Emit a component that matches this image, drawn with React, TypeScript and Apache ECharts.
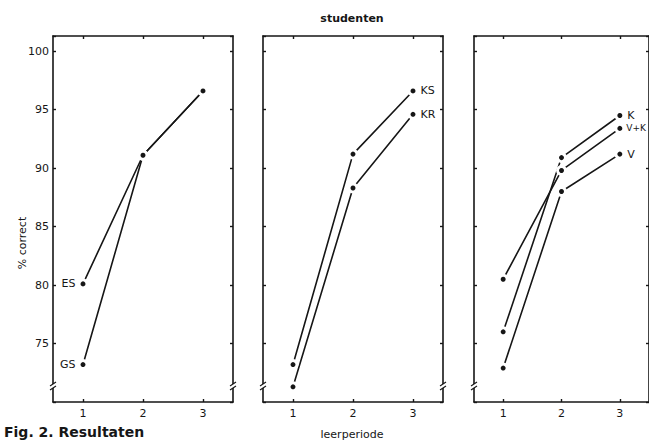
import React, { useEffect, useRef } from "react";
import * as echarts from "echarts";

const periods = ["1", "2", "3"];
const yTicks = [75, 80, 85, 90, 95, 100];

// panel 1
const ES = [80.1, 91.1, 96.6];
const GS = [73.2, 91.1, 96.6];
// panel 2
const KS = [73.2, 91.2, 96.6];
const KR = [71.3, 88.3, 94.6];
// panel 3
const K = [76.0, 90.9, 94.5];
const VK = [80.5, 89.8, 93.4];
const V = [72.9, 88.0, 91.2];

const panels = [
  { series: [{ name: "ES", data: ES, labelAt: 0 }, { name: "GS", data: GS, labelAt: 0 }], left: 53 },
  { series: [{ name: "KS", data: KS, labelAt: 2 }, { name: "KR", data: KR, labelAt: 2 }], left: 263 },
  { series: [{ name: "K", data: K, labelAt: 2 }, { name: "V+K", data: VK, labelAt: 2 }, { name: "V", data: V, labelAt: 2 }], left: 474 },
];

const INK = "#161616";
const FONT = "DejaVu Sans";

export default function App() {
  const ref = useRef<HTMLDivElement>(null);
  useEffect(() => {
    if (!ref.current) return;
    const chart = echarts.init(ref.current, null, { renderer: "svg" });
    const grids: any[] = [];
    const xAxes: any[] = [];
    const yAxes: any[] = [];
    const series: any[] = [];
    const graphics: any[] = [];
    const top = 36;
    const height = 366;
    const width = 180;
    panels.forEach((p, i) => {
      grids.push({ left: p.left, top, width, height });
      const axisLine = { show: true, lineStyle: { color: INK, width: 1.6 } };
      const tick = { show: true, inside: true, length: 3, lineStyle: { color: INK, width: 1.4 } };
      xAxes.push({
        type: "category", gridIndex: i, data: periods, boundaryGap: true, position: "bottom",
        axisLine, axisTick: { ...tick, alignWithLabel: true },
        axisLabel: { show: true, color: INK, fontFamily: FONT, fontSize: 11, margin: 6 },
        splitLine: { show: false },
      });
      xAxes.push({
        type: "category", gridIndex: i, data: periods, boundaryGap: true, position: "top",
        axisLine, axisTick: { ...tick, alignWithLabel: true }, axisLabel: { show: false }, splitLine: { show: false },
      });
      const yBase = {
        type: "value", gridIndex: i, min: 70, max: 101.3, interval: 5,
        axisLine, axisTick: tick, splitLine: { show: false },
      };
      yAxes.push({
        ...yBase, position: "left",
        axisLabel: {
          show: i === 0, color: INK, fontFamily: FONT, fontSize: 11, margin: 4,
          formatter: (v: number) => (yTicks.includes(v) ? String(v) : ""),
        },
      });
      yAxes.push({ ...yBase, position: "right", axisLabel: { show: false } });
      p.series.forEach((s) => {
        const small = s.name.length > 2;
        series.push({
          type: "line", name: s.name, xAxisIndex: i * 2, yAxisIndex: i * 2,
          data: s.data.map((v, j) =>
            j === s.labelAt
              ? {
                  value: v,
                  label: {
                    show: true, position: s.labelAt === 0 ? "left" : "right", distance: small ? 1 : 2,
                    formatter: s.name, color: INK, fontFamily: FONT, fontSize: small ? 9 : 11,
                  },
                }
              : v
          ),
          symbol: "circle", symbolSize: 8,
          itemStyle: { color: INK, borderColor: "#ffffff", borderWidth: 3 },
          lineStyle: { color: INK, width: 1.6 },
          z: 3,
        });
      });
      // axis break marks near the bottom of the left and right borders
      [p.left, p.left + width].forEach((bx) => {
        graphics.push({ type: "rect", shape: { x: bx - 2, y: 384, width: 4, height: 4 }, style: { fill: "#fff" }, z: 100 });
        graphics.push({ type: "line", shape: { x1: bx - 3, y1: 386, x2: bx + 3, y2: 382 }, style: { stroke: INK, lineWidth: 1.2 }, z: 101 });
        graphics.push({ type: "line", shape: { x1: bx - 3, y1: 390, x2: bx + 3, y2: 386 }, style: { stroke: INK, lineWidth: 1.2 }, z: 101 });
      });
    });
    graphics.push(
      { type: "text", x: 22, y: 243, rotation: Math.PI / 2, style: { text: "% correct", fill: INK, font: `11px "${FONT}"`, align: "center", verticalAlign: "middle" } },
      { type: "text", x: 352, y: 18, style: { text: "studenten", fill: INK, font: `bold 11px "${FONT}"`, align: "center", verticalAlign: "middle" } },
      { type: "text", x: 352, y: 434, style: { text: "leerperiode", fill: INK, font: `11px "${FONT}"`, align: "center", verticalAlign: "middle" } },
      { type: "text", x: 4, y: 425, style: { text: "Fig. 2. Resultaten", fill: INK, font: `bold 14px "${FONT}"`, align: "left", verticalAlign: "top" } }
    );
    chart.setOption({
      animation: false,
      backgroundColor: "#ffffff",
      grid: grids,
      xAxis: xAxes,
      yAxis: yAxes,
      series,
      graphic: graphics,
    });
    return () => chart.dispose();
  }, []);
  return <div ref={ref} style={{ position: "fixed", left: 0, top: 0, width: 649, height: 441 }} />;
}
